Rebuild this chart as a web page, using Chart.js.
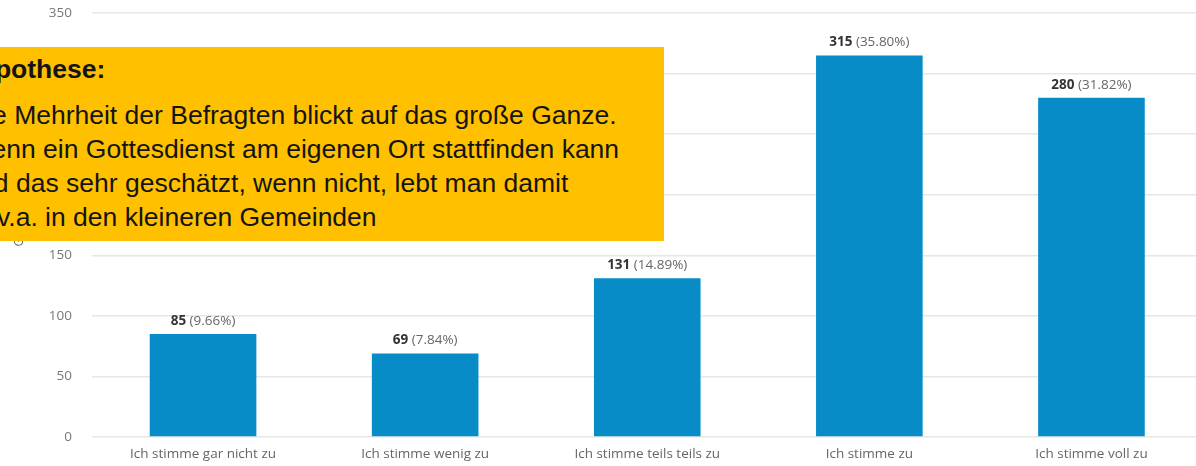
<!DOCTYPE html>
<html lang="de">
<head>
<meta charset="utf-8">
<script src="https://cdn.jsdelivr.net/npm/chart.js@4"></script>
<style>
    html, body {
        margin: 0;
        padding: 0;
        width: 1196px;
        height: 466px;
        overflow: hidden;
        background: #ffffff;
    }
    #wrap {
        position: absolute;
        left: 0;
        top: 0;
        width: 1204px;
        height: 466px;
    }
    #note {
        position: absolute;
        left: 0;
        top: 47px;
        width: 664px;
        height: 194px;
        background: #FFC000;
        overflow: hidden;
        font-family: "Liberation Sans", Arial, sans-serif;
        font-size: 26.5px;
        line-height: 34.3px;
        color: #141414;
    }
    #note .inner {
        position: absolute;
        left: -33px;
        top: 4.6px;
        white-space: nowrap;
    }
    #note .head {
        font-weight: bold;
        margin-left: -6px;
        margin-bottom: 11.7px;
    }
    #note .l4 {
        margin-left: -7px;
    }
    #note .last {
        text-indent: 30px;
    }
</style>
</head>
<body>
<div id="wrap">
    <canvas id="surveyChart" width="1204" height="466"></canvas>
</div>
<div id="note">
    <div class="inner">
        <div class="head">Hypothese:</div>
        <div>Die Mehrheit der Befragten blickt auf das große Ganze.</div>
        <div>Wenn ein Gottesdienst am eigenen Ort stattfinden kann</div>
        <div class="l4">wird das sehr geschätzt, wenn nicht, lebt man damit</div>
        <div class="last">v.a. in den kleineren Gemeinden</div>
    </div>
</div>

<script>
// Survey answers
const categories = [
    'Ich stimme gar nicht zu',
    'Ich stimme wenig zu',
    'Ich stimme teils teils zu',
    'Ich stimme zu',
    'Ich stimme voll zu'
];
const counts = [85, 69, 131, 315, 280];
const shares = ['9.66%', '7.84%', '14.89%', '35.80%', '31.82%'];
const yTicks = [0, 50, 100, 150, 200, 250, 300, 350];

const FONT = '"Open Sans", "Noto Sans", sans-serif';
const FSIZE = 13.5;

// Draws "85 (9.66%)" above each bar, count in bold
const barLabels = {
    id: 'barLabels',
    afterDatasetsDraw(chart) {
        const ctx = chart.ctx;
        const meta = chart.getDatasetMeta(0);
        ctx.save();
        ctx.textBaseline = 'middle';
        meta.data.forEach((bar, i) => {
            const boldText = String(counts[i]);
            const restText = ' (' + shares[i] + ')';
            ctx.font = 'bold ' + FSIZE + 'px ' + FONT;
            const wBold = ctx.measureText(boldText).width;
            ctx.font = FSIZE + 'px ' + FONT;
            const wRest = ctx.measureText(restText).width;
            const x0 = bar.x - (wBold + wRest) / 2;
            const y = bar.y - 13;
            ctx.textAlign = 'left';
            ctx.font = 'bold ' + FSIZE + 'px ' + FONT;
            ctx.fillStyle = '#333333';
            ctx.fillText(boldText, x0, y);
            ctx.font = FSIZE + 'px ' + FONT;
            ctx.fillStyle = '#666666';
            ctx.fillText(restText, x0 + wBold, y);
        });
        ctx.restore();
    }
};

const ctx = document.getElementById('surveyChart').getContext('2d');
new Chart(ctx, {
    type: 'bar',
    data: {
        labels: categories,
        datasets: [{
            data: counts,
            backgroundColor: '#078CC8',
            borderWidth: 0,
            categoryPercentage: 1,
            barPercentage: 0.48
        }]
    },
    options: {
        responsive: false,
        animation: false,
        layout: {
            padding: { top: 0, right: 1.5, bottom: 0, left: 0 }
        },
        plugins: {
            legend: { display: false },
            tooltip: { enabled: false }
        },
        scales: {
            x: {
                afterFit(scale) { scale.height = 29; },
                grid: { display: false },
                border: { display: false },
                ticks: {
                    color: '#666666',
                    font: { family: FONT, size: FSIZE },
                    padding: 1,
                    maxRotation: 0
                }
            },
            y: {
                min: 0,
                max: 350,
                afterFit(scale) {
                    scale.width = 92;
                    scale.paddingTop = 13;
                },
                afterBuildTicks(scale) {
                    scale.ticks = yTicks.map(v => ({ value: v }));
                },
                grid: {
                    color: '#e6e6e6',
                    lineWidth: 1.5,
                    drawTicks: false
                },
                border: { display: false },
                ticks: {
                    color: '#777777',
                    font: { family: FONT, size: FSIZE },
                    padding: 20
                },
                title: {
                    display: true,
                    text: 'Gesamt',
                    color: '#666666',
                    font: { family: FONT, size: 12 },
                    padding: { top: 12, bottom: 0 }
                }
            }
        }
    },
    plugins: [barLabels]
});
</script>
</body>
</html>
